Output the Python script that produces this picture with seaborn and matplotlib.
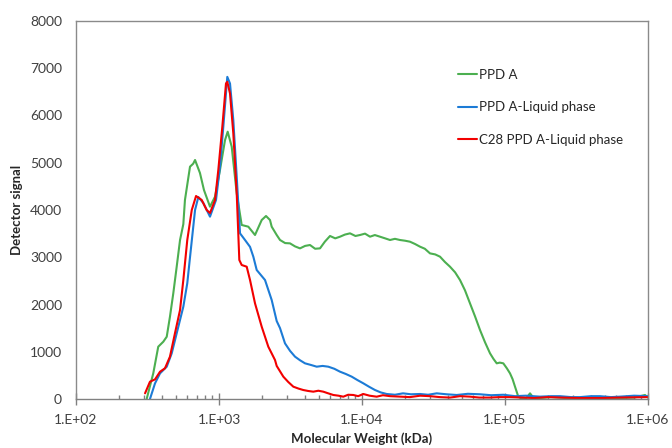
import numpy as np
import pandas as pd
import matplotlib
matplotlib.use("Agg")
import matplotlib.pyplot as plt
from matplotlib import ticker
import seaborn as sns

sns.set_style("white")
plt.rcParams['font.family'] = ['Lato', 'DejaVu Sans']

# molecular weight (kDa) and detector signal
mw_ppda = [312, 347, 376, 408, 431, 454, 479, 506, 534, 563, 578, 627, 660, 680, 736, 785,
           865, 938, 1016, 1102, 1150, 1227, 1330, 1441, 1603, 1786, 1989, 2132, 2273, 2336,
           2532, 2671, 2900, 3137, 3400, 3685, 4000, 4329, 4700, 5085, 5500, 5974, 6500, 7019,
           7600, 8246, 9000, 9683, 10500, 11375, 12300, 13360, 14500, 15700, 17000, 18440,
           20000, 21660, 23500, 25440, 27500, 29890, 32500, 35120, 38000, 41250, 44800, 48460,
           52500, 56920, 61700, 66880, 72500, 78560, 83000, 87500, 92000, 97300, 103000, 108400,
           113000, 117500, 123900, 131500, 140300, 149600, 159500, 175700, 210000, 242400,
           290000, 334600, 400000, 461600, 550000, 637300, 800000, 952800, 1000000]
sig_ppda = [0, 543, 1107, 1213, 1318, 1742, 2236, 2800, 3365, 3700, 4212, 4917, 4980, 5058,
            4783, 4423, 4070, 4282, 4847, 5481, 5657, 5340, 4353, 3683, 3647, 3471, 3788, 3873,
            3788, 3647, 3471, 3365, 3300, 3294, 3230, 3188, 3240, 3259, 3180, 3188, 3330, 3450,
            3400, 3435, 3480, 3506, 3450, 3471, 3500, 3435, 3470, 3435, 3400, 3365, 3390, 3365,
            3350, 3329, 3280, 3224, 3180, 3082, 3060, 3012, 2900, 2800, 2680, 2518, 2300, 2024,
            1750, 1460, 1200, 967, 850, 755, 770, 755, 650, 543, 420, 261, 49, 0, 10, 120, 10,
            20, 40, 30, 10, 20, 40, 30, 10, 20, 30, 85, 30]

mw_liquid = [329, 357, 387, 431, 467, 506, 563, 600, 627, 680, 717, 777, 865, 953, 1016, 1072,
             1143, 1194, 1259, 1330, 1403, 1520, 1648, 1738, 1835, 2098, 2336, 2532, 2671, 2894,
             3137, 3401, 3685, 3994, 4400, 4823, 5300, 5812, 6400, 7019, 7700, 8472, 9300, 10210,
             11200, 12330, 13500, 14880, 17000, 19350, 22000, 25440, 29000, 33310, 39000, 45950,
             55000, 66880, 80000, 97300, 117500, 140000, 175700, 210000, 242400, 290000, 334600,
             400000, 461600, 550000, 637300, 800000, 1000000]
sig_liquid = [0, 332, 543, 684, 966, 1390, 1953, 2450, 3000, 4000, 4275, 4148, 3859, 4212, 4917,
              5763, 6818, 6677, 5905, 4705, 3506, 3365, 3220, 3012, 2730, 2518, 2095, 1650, 1500,
              1178, 1020, 896, 820, 755, 720, 684, 700, 684, 640, 578, 530, 473, 400, 332, 260,
              190, 140, 106, 90, 120, 100, 106, 90, 120, 100, 85, 110, 100, 80, 90, 60, 70, 50,
              60, 60, 40, 40, 60, 60, 40, 50, 70, 60]

mw_c28 = [304, 329, 357, 387, 419, 454, 492, 534, 563, 600, 645, 691, 757, 820, 865, 938, 989,
          1055, 1119, 1143, 1194, 1259, 1330, 1387, 1441, 1562, 1648, 1786, 1989, 2212, 2464,
          2532, 2817, 3050, 3309, 3600, 3886, 4200, 4564, 4950, 5363, 5800, 6300, 6850, 7401,
          8000, 8697, 9400, 10210, 11300, 12670, 14000, 15700, 18500, 21660, 25500, 29890,
          35000, 41250, 48500, 56920, 66000, 78560, 92000, 108400, 130000, 160000, 200000,
          242400, 330000, 461600, 640000, 1000000]
sig_c28 = [120, 366, 416, 578, 650, 896, 1390, 1883, 2518, 3365, 4000, 4296, 4212, 4000, 3936,
           4212, 4847, 5763, 6677, 6713, 6466, 5622, 4353, 2942, 2836, 2800, 2518, 2024, 1530,
           1107, 825, 700, 473, 360, 261, 220, 190, 170, 155, 175, 155, 120, 85, 70, 49, 90, 85,
           60, 106, 70, 49, 80, 60, 50, 40, 70, 60, 40, 30, 60, 50, 30, 30, 40, 40, 30, 20, 40,
           30, 20, 20, 30, 40]

series = [("PPD A", mw_ppda, sig_ppda, "#4CAF50"),
          ("PPD A-Liquid phase", mw_liquid, sig_liquid, "#1C7BD6"),
          ("C28 PPD A-Liquid phase", mw_c28, sig_c28, "#F20000")]

fig = plt.figure(figsize=(6.72, 4.48), dpi=100)
ax = fig.add_axes([76 / 672, 49 / 448, 572 / 672, 378 / 448])

for name, mw, sig, col in series:
    df = pd.DataFrame({"mw": mw, "sig": sig})
    sns.lineplot(data=df, x="mw", y="sig", ax=ax, color=col, linewidth=1.5,
                 label=name, estimator=None, sort=False)

ax.set_xscale("log")
ax.set_xlim(1e2, 1e6)
ax.set_ylim(0, 8000)
ax.set_yticks(np.arange(0, 8001, 1000))
ax.xaxis.set_major_locator(ticker.LogLocator(base=10, numticks=10))
ax.xaxis.set_minor_locator(ticker.LogLocator(base=10, subs=np.arange(2, 10), numticks=20))
ax.xaxis.set_major_formatter(ticker.FuncFormatter(lambda v, p: "1.E+%02d" % int(round(np.log10(v)))))
ax.xaxis.set_minor_formatter(ticker.NullFormatter())

ax.tick_params(axis="y", length=0, pad=10, labelsize=10, labelcolor="#404040")
ax.tick_params(axis="x", which="major", direction="inout", length=9, width=1, color="#808080",
               pad=6, labelsize=10, labelcolor="#404040", bottom=True)
ax.tick_params(axis="x", which="minor", direction="in", length=3, width=1, color="#808080", bottom=True)

for s in ax.spines.values():
    s.set_color("#8a8a8a")
    s.set_linewidth(1)
ax.spines["bottom"].set_color("#808080")

ax.set_xlabel("Molecular Weight (kDa)", fontsize=9.5, fontweight="bold", color="#262626", labelpad=5)
ax.set_ylabel("Detector signal", fontsize=9.5, fontweight="bold", color="#262626", labelpad=5)

leg = ax.legend(loc="upper left", bbox_to_anchor=(458 / 672, 1 - 69 / 448),
                bbox_transform=fig.transFigure, frameon=False, fontsize=9.5,
                handlelength=1.45, handletextpad=0.15, labelspacing=1.55,
                borderpad=0, borderaxespad=0)
for t in leg.get_texts():
    t.set_color("#262626")

fig.savefig("out.png", dpi=100)
